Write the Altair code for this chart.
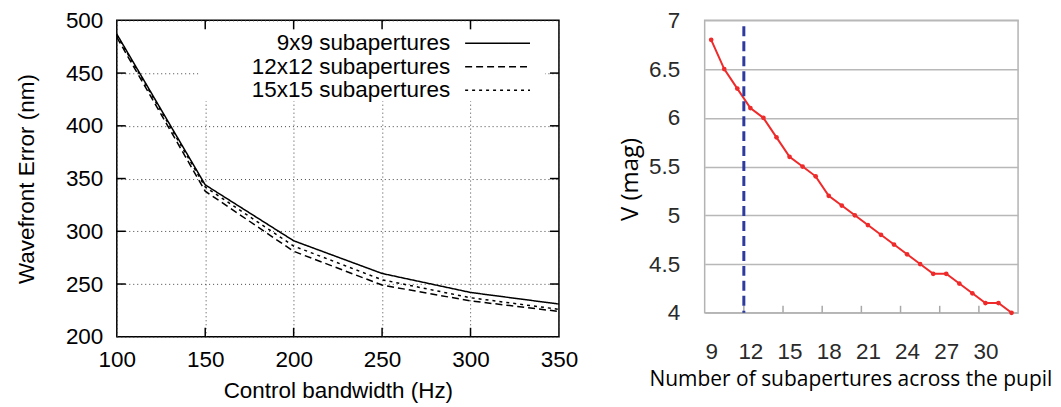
import altair as alt
import pandas as pd

# ---------------- data: left panel ----------------
bandwidth = [100, 150, 200, 250, 300, 350]
series_names = ["9x9 subapertures", "12x12 subapertures", "15x15 subapertures"]
wfe_9x9 = [487, 344, 291, 260, 242, 231]
wfe_12x12 = [484, 338, 281, 249, 234, 224]
wfe_15x15 = [486, 342, 286, 254, 237, 226]
x_ticks_left = [100, 150, 200, 250, 300, 350]
y_ticks_left = [200, 250, 300, 350, 400, 450, 500]
x_inner_ticks = [150, 200, 250, 300]
y_inner_ticks = [250, 300, 350, 400, 450]

# ---------------- data: right panel ----------------
n_sub = [9, 10, 11, 12, 13, 14, 15, 16, 17, 18, 19, 20, 21, 22, 23, 24,
         25, 26, 27, 28, 29, 30, 31, 32]
v_mag = [6.8, 6.5, 6.3, 6.1, 6.0, 5.8, 5.6, 5.5, 5.4, 5.2, 5.1, 5.0, 4.9,
         4.8, 4.7, 4.6, 4.5, 4.4, 4.4, 4.3, 4.2, 4.1, 4.1, 4.0]
x_labels_right = [9, 12, 15, 18, 21, 24, 27, 30]
x_ticks_right = [11.5, 14.5, 17.5, 20.5, 23.5, 26.5, 29.5]
y_ticks_right = [4, 4.5, 5, 5.5, 6, 6.5, 7]
marker_n = [11.5]

FONT = "Liberation Sans"
LW, LH = 443, 317
RW, RH = 314, 293

rows = []
for name, vals in zip(series_names, [wfe_9x9, wfe_12x12, wfe_15x15]):
    for b, v in zip(bandwidth, vals):
        rows.append({"bw": b, "wfe": v, "series": name})
df_left = pd.DataFrame(rows)

dash_range = [[1, 0], [7, 4], [3, 4]]

xs_left = alt.Scale(domain=[100, 350], nice=False)
ys_left = alt.Scale(domain=[200, 500], nice=False)

x_axis_left = alt.Axis(
    values=x_ticks_left, format="d", grid=True, gridDash=[1, 3], gridColor="#444",
    gridWidth=1, tickSize=0, domain=False, labelFlush=False, labelFont=FONT,
    labelFontSize=22.5, labelColor="black", labelPadding=12,
    title="Control bandwidth (Hz)", titleFont=FONT, titleFontSize=22.5,
    titleFontWeight="normal", titleColor="black", titlePadding=8, zindex=0)
y_axis_left = alt.Axis(
    values=y_ticks_left, format="d", grid=True, gridDash=[1, 3], gridColor="#444",
    gridWidth=1, tickSize=0, domain=False, labelFlush=False, labelFont=FONT,
    labelFontSize=22.5, labelColor="black", labelPadding=14,
    title="Wavefront Error (nm)", titleFont=FONT, titleFontSize=22.5,
    titleFontWeight="normal", titleColor="black", titlePadding=27, zindex=0)

lines_left = alt.Chart(df_left).mark_line(color="black", strokeWidth=1.5).encode(
    x=alt.X("bw:Q", scale=xs_left, axis=x_axis_left),
    y=alt.Y("wfe:Q", scale=ys_left, axis=y_axis_left),
    strokeDash=alt.StrokeDash("series:N", scale=alt.Scale(domain=series_names, range=dash_range), legend=None),
    detail="series:N",
)

one = pd.DataFrame({"a": [0]})
legend_box = alt.Chart(one).mark_rect(color="white").encode(
    x=alt.value(82), x2=alt.value(429), y=alt.value(2), y2=alt.value(81))

df_xt = pd.DataFrame({"bw": x_inner_ticks})
df_yt = pd.DataFrame({"wfe": y_inner_ticks})
tick_b = alt.Chart(df_xt).mark_rule(color="black", strokeWidth=1.5).encode(
    x=alt.X("bw:Q", scale=xs_left), y=alt.value(LH), y2=alt.value(LH - 9))
tick_t = alt.Chart(df_xt).mark_rule(color="black", strokeWidth=1.5).encode(
    x=alt.X("bw:Q", scale=xs_left), y=alt.value(0), y2=alt.value(9))
tick_l = alt.Chart(df_yt).mark_rule(color="black", strokeWidth=1.5).encode(
    y=alt.Y("wfe:Q", scale=ys_left), x=alt.value(0), x2=alt.value(9))
tick_r = alt.Chart(df_yt).mark_rule(color="black", strokeWidth=1.5).encode(
    y=alt.Y("wfe:Q", scale=ys_left), x=alt.value(LW - 9), x2=alt.value(LW))

legend_layers = []
leg_y = [23, 46.5, 70]
for name, dash, yy in zip(series_names, dash_range, leg_y):
    legend_layers.append(
        alt.Chart(pd.DataFrame({"label": [name]})).mark_text(
            align="right", baseline="middle", font=FONT, fontSize=22.5, color="black"
        ).encode(text="label:N", x=alt.value(334), y=alt.value(yy))
    )
    legend_layers.append(
        alt.Chart(one).mark_rule(color="black", strokeWidth=1.5, strokeDash=dash).encode(
            x=alt.value(349), x2=alt.value(414), y=alt.value(yy))
    )

left = alt.layer(lines_left, legend_box, tick_b, tick_t, tick_l, tick_r, *legend_layers).properties(
    width=LW, height=LH, view=alt.ViewBackground(stroke="black", strokeWidth=1.5))

# ---------------- right panel ----------------
RED = "#ee2a2a"
df_right = pd.DataFrame({"n": n_sub, "v": v_mag})
xs_r = alt.Scale(domain=[8.5, 32.5], nice=False)
ys_r = alt.Scale(domain=[4, 7], nice=False)

x_axis_r = alt.Axis(
    values=x_labels_right, format="d", grid=False, tickSize=0, domain=False,
    labelFlush=False, labelFont=FONT, labelFontSize=22.5, labelColor="#2a2a2a",
    labelPadding=28, title="Number of subapertures across the pupil",
    titleFont="Open Sans", titleFontSize=21, titleFontWeight="normal",
    titleColor="black", titlePadding=5, titleX=146)
y_axis_r = alt.Axis(
    values=y_ticks_right, format="~g", grid=True, gridColor="#b8b8b8", gridWidth=1.5,
    tickSize=0, domain=False, labelFlush=False, labelFont=FONT, labelFontSize=22.5,
    labelColor="#2a2a2a", labelPadding=25, title="V (mag)", titleFont="Open Sans",
    titleFontSize=24, titleFontWeight="normal", titleColor="black", titlePadding=6,
    titleY=159, zindex=0)

line_r = alt.Chart(df_right).mark_line(color=RED, strokeWidth=2).encode(
    x=alt.X("n:Q", scale=xs_r, axis=x_axis_r),
    y=alt.Y("v:Q", scale=ys_r, axis=y_axis_r))
pts_r = alt.Chart(df_right).mark_circle(color=RED, size=22, opacity=1).encode(
    x=alt.X("n:Q", scale=xs_r), y=alt.Y("v:Q", scale=ys_r))
marker = alt.Chart(pd.DataFrame({"n": marker_n})).mark_rule(
    color="#2e3a9e", strokeWidth=3, strokeDash=[10, 5]).encode(
    x=alt.X("n:Q", scale=xs_r), y=alt.value(6), y2=alt.value(RH))
ticks_r = alt.Chart(pd.DataFrame({"n": x_ticks_right})).mark_rule(
    color="#a8a8a8", strokeWidth=1.5).encode(
    x=alt.X("n:Q", scale=xs_r), y=alt.value(RH), y2=alt.value(RH - 7))

right = alt.layer(ticks_r, line_r, pts_r, marker).properties(
    width=RW, height=RH, view=alt.ViewBackground(stroke="#b3b3b3", strokeWidth=1.5))

chart = alt.hconcat(left, right, spacing=38).properties(
    padding={"left": 6, "top": 0, "right": 0, "bottom": 0}
).configure(background="white")

chart.save("out.html", embed_options={"renderer": "svg", "actions": False})
